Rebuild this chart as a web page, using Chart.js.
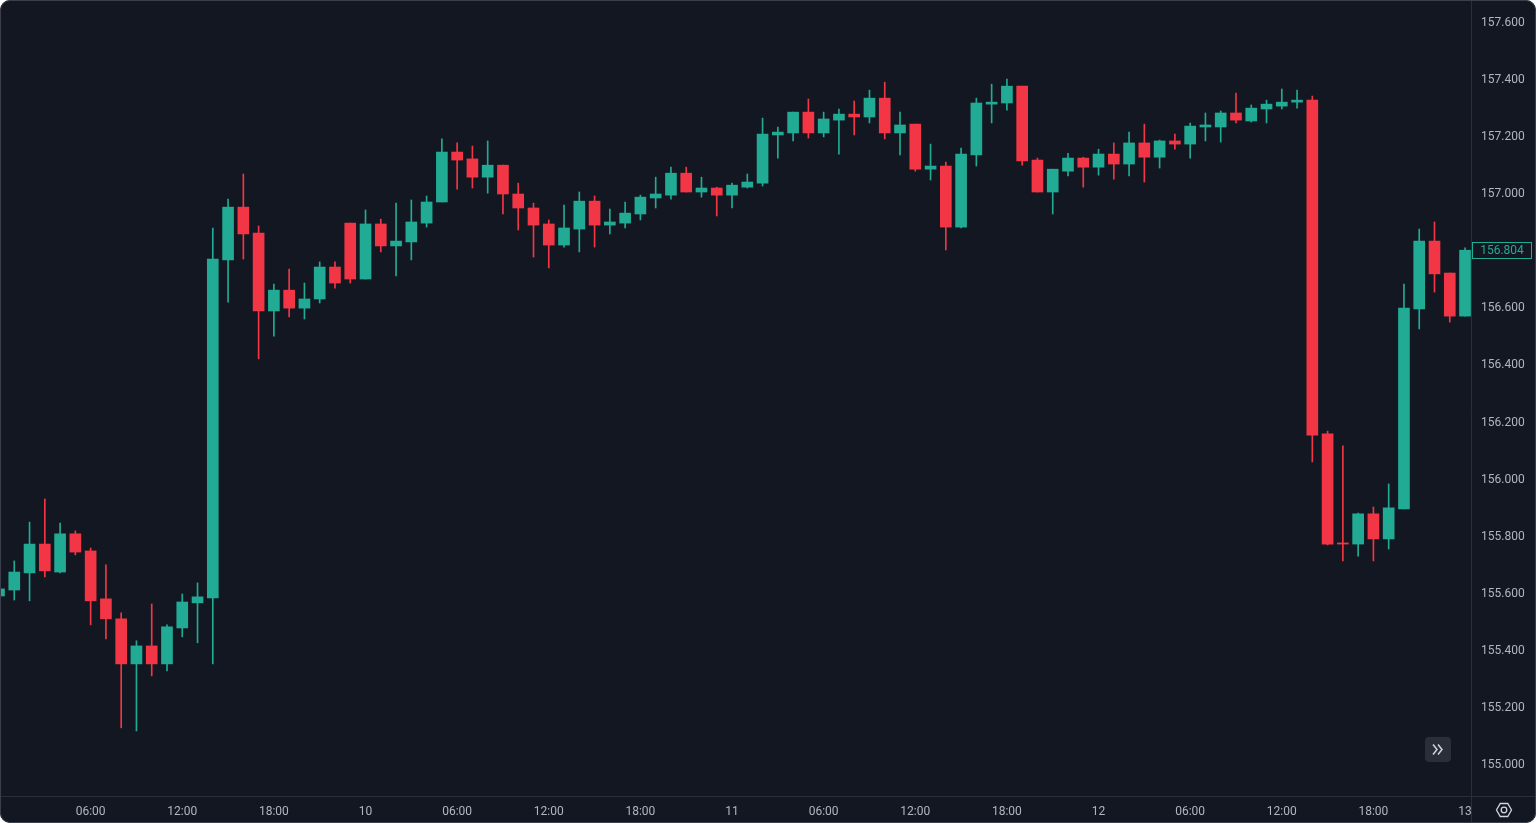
<!DOCTYPE html>
<html>
<head>
<meta charset="utf-8">
<script src="https://cdn.jsdelivr.net/npm/chart.js@4.4.0/dist/chart.umd.min.js"></script>
<style>
html, body { margin: 0; padding: 0; background: #ffffff; }
#wrap { position: relative; width: 1536px; height: 823px; background: #131722; border-radius: 10px; overflow: hidden; }
#wrap::after { content: ''; position: absolute; left: 0; top: 0; right: 0; bottom: 0; border: 1px solid #3b3f4b; border-radius: 10px; pointer-events: none; }
</style>
</head>
<body>
<div id="wrap"><canvas id="grafico"></canvas></div>
<script>
// hourly candles, 9th 00:00 -> 13th 00:00
const opens = [
    155.592, 155.613, 155.673, 155.774, 155.676, 155.810, 155.750, 155.582, 155.512, 155.354,
    155.417, 155.354, 155.480, 155.568, 155.585, 156.770, 156.955, 156.864, 156.591, 156.664,
    156.601, 156.633, 156.745, 156.899, 156.703, 156.896, 156.819, 156.833, 156.899, 156.973,
    157.148, 157.124, 157.060, 157.102, 157.001, 156.952, 156.896, 156.822, 156.878, 156.976,
    156.892, 156.899, 156.931, 156.987, 156.997, 157.074, 157.008, 157.022, 156.997, 157.025,
    157.039, 157.208, 157.215, 157.288, 157.215, 157.260, 157.281, 157.271, 157.337, 157.215,
    157.246, 157.088, 157.099, 156.885, 157.138, 157.316, 157.320, 157.379, 157.120, 157.008,
    157.081, 157.127, 157.095, 157.141, 157.106, 157.180, 157.130, 157.187, 157.176, 157.236,
    157.236, 157.285, 157.257, 157.299, 157.309, 157.323, 157.330, 156.160, 155.778, 155.774,
    155.880, 155.792, 155.897, 156.598, 156.836, 156.724, 156.573
];
const highs = [
    155.627, 155.715, 155.851, 155.932, 155.848, 155.820, 155.760, 155.701, 155.533, 155.435,
    155.564, 155.491, 155.599, 155.638, 156.882, 156.983, 157.071, 156.889, 156.685, 156.738,
    156.689, 156.763, 156.763, 156.899, 156.945, 156.913, 156.969, 156.980, 156.994, 157.194,
    157.180, 157.169, 157.187, 157.102, 157.039, 156.969, 156.910, 156.962, 157.008, 156.994,
    156.948, 156.973, 156.997, 157.060, 157.095, 157.095, 157.060, 157.025, 157.039, 157.071,
    157.267, 157.236, 157.288, 157.334, 157.288, 157.299, 157.327, 157.365, 157.393, 157.288,
    157.246, 157.176, 157.113, 157.162, 157.337, 157.386, 157.404, 157.379, 157.127, 157.088,
    157.144, 157.130, 157.158, 157.180, 157.218, 157.246, 157.190, 157.211, 157.250, 157.285,
    157.292, 157.355, 157.313, 157.330, 157.369, 157.365, 157.344, 156.170, 156.118, 155.883,
    155.904, 155.985, 156.685, 156.878, 156.903, 156.724, 156.812
];
const lows = [
    155.585, 155.578, 155.575, 155.659, 155.673, 155.736, 155.491, 155.442, 155.130, 155.119,
    155.312, 155.329, 155.449, 155.428, 155.354, 156.622, 156.773, 156.423, 156.503, 156.570,
    156.563, 156.619, 156.671, 156.689, 156.703, 156.798, 156.714, 156.770, 156.885, 156.973,
    157.018, 157.022, 157.004, 156.931, 156.875, 156.780, 156.742, 156.815, 156.798, 156.815,
    156.861, 156.882, 156.910, 156.952, 156.983, 157.008, 156.990, 156.924, 156.952, 157.022,
    157.029, 157.127, 157.187, 157.197, 157.201, 157.141, 157.208, 157.250, 157.194, 157.138,
    157.081, 157.050, 156.805, 156.882, 157.099, 157.250, 157.295, 157.102, 157.008, 156.931,
    157.064, 157.025, 157.067, 157.053, 157.064, 157.043, 157.092, 157.158, 157.127, 157.187,
    157.183, 157.250, 157.253, 157.250, 157.299, 157.302, 156.062, 155.771, 155.715, 155.732,
    155.715, 155.757, 155.897, 156.528, 156.657, 156.552, 156.573
];
const closes = [
    155.617, 155.676, 155.774, 155.680, 155.810, 155.746, 155.575, 155.512, 155.354, 155.417,
    155.354, 155.484, 155.571, 155.589, 156.773, 156.955, 156.861, 156.591, 156.664, 156.601,
    156.633, 156.745, 156.689, 156.703, 156.896, 156.819, 156.836, 156.903, 156.973, 157.148,
    157.120, 157.060, 157.102, 157.001, 156.952, 156.892, 156.822, 156.882, 156.976, 156.892,
    156.903, 156.934, 156.990, 157.001, 157.074, 157.008, 157.022, 156.997, 157.032, 157.043,
    157.211, 157.218, 157.288, 157.215, 157.264, 157.281, 157.271, 157.337, 157.215, 157.243,
    157.088, 157.099, 156.885, 157.141, 157.320, 157.323, 157.379, 157.117, 157.008, 157.088,
    157.127, 157.095, 157.141, 157.106, 157.180, 157.130, 157.187, 157.176, 157.239, 157.243,
    157.285, 157.260, 157.302, 157.316, 157.323, 157.330, 156.156, 155.774, 155.774, 155.880,
    155.792, 155.901, 156.601, 156.836, 156.721, 156.573, 156.804
];

// one label every 6 candles
const tickLabels = ['9', '06:00', '12:00', '18:00', '10', '06:00', '12:00', '18:00', '11',
    '06:00', '12:00', '18:00', '12', '06:00', '12:00', '18:00', '13'];
const tickStep = 6;
const priceTicks = [155.0, 155.2, 155.4, 155.6, 155.8, 156.0, 156.2, 156.4, 156.6, 156.8, 157.0, 157.2, 157.4, 157.6];

const upColor = '#22ab94';
const downColor = '#f23645';
const textColor = '#b2b5be';
const lineColor = '#2a2e39';

const candleColors = closes.map((c, i) => c >= opens[i] ? upColor : downColor);
const wickData = highs.map((h, i) => ({ x: i, y: [lows[i], h] }));
const bodyData = opens.map((o, i) => ({ x: i, y: [o, closes[i]] }));
const lastClose = closes[closes.length - 1];

const decoracao = {
    id: 'decoracao',
    afterDraw(chart) {
        const ctx = chart.ctx;
        const area = chart.chartArea;
        const w = chart.width, h = chart.height;
        ctx.save();

        // axis separators
        ctx.strokeStyle = lineColor;
        ctx.lineWidth = 1;
        ctx.beginPath();
        ctx.moveTo(Math.round(area.right) + 0.5, 0);
        ctx.lineTo(Math.round(area.right) + 0.5, h);
        ctx.moveTo(0, Math.round(area.bottom) + 0.5);
        ctx.lineTo(w, Math.round(area.bottom) + 0.5);
        ctx.stroke();

        // last price label
        const y = chart.scales.y.getPixelForValue(lastClose);
        const bx = Math.round(area.right) + 1.5;
        ctx.fillStyle = '#131722';
        ctx.fillRect(bx, y - 8, 59, 16);
        ctx.strokeStyle = upColor;
        ctx.strokeRect(bx, Math.round(y - 8) + 0.5, 59, 16);
        ctx.fillStyle = upColor;
        ctx.font = '12px Roboto';
        ctx.textAlign = 'center';
        ctx.textBaseline = 'middle';
        ctx.fillText(lastClose.toFixed(3), bx + 29.5, y + 1);

        // scroll-to-end button
        const px = 1425, py = 737;
        ctx.fillStyle = '#2a2e39';
        ctx.beginPath();
        ctx.roundRect(px, py, 26, 25, 4);
        ctx.fill();
        ctx.strokeStyle = '#d1d4dc';
        ctx.lineWidth = 1.5;
        ctx.beginPath();
        ctx.moveTo(px + 8, py + 7.5); ctx.lineTo(px + 12, py + 12.5); ctx.lineTo(px + 8, py + 17.5);
        ctx.moveTo(px + 13, py + 7.5); ctx.lineTo(px + 17, py + 12.5); ctx.lineTo(px + 13, py + 17.5);
        ctx.stroke();

        // settings gear
        const gx = 1504, gy = 810;
        ctx.strokeStyle = '#d1d4dc';
        ctx.lineWidth = 1.3;
        ctx.beginPath();
        for (let k = 0; k < 6; k++) {
            const a = Math.PI / 3 * k;
            const hx = gx + 7.5 * Math.cos(a), hy = gy + 7.5 * Math.sin(a);
            if (k === 0) ctx.moveTo(hx, hy); else ctx.lineTo(hx, hy);
        }
        ctx.closePath();
        ctx.stroke();
        ctx.beginPath();
        ctx.arc(gx, gy, 2.8, 0, Math.PI * 2);
        ctx.stroke();

        ctx.restore();
    }
};

var ctx = document.getElementById('grafico');
var grafico = new Chart(ctx, {
    type: 'bar',
    data: {
        datasets: [{
            data: wickData,
            backgroundColor: candleColors,
            barThickness: 1,
            grouped: false,
            order: 2
        }, {
            data: bodyData,
            backgroundColor: candleColors,
            barThickness: 11,
            minBarLength: 1,
            grouped: false,
            order: 1
        }]
    },
    options: {
        responsive: true,
        maintainAspectRatio: false,
        animation: false,
        layout: { padding: 0 },
        plugins: {
            legend: { display: false },
            tooltip: { enabled: false }
        },
        scales: {
            x: {
                type: 'linear',
                offset: false,
                min: 0.065,
                max: 96.39,
                grid: { display: false, drawTicks: false },
                border: { display: false },
                afterBuildTicks: (axis) => {
                    axis.ticks = tickLabels.map((t, i) => ({ value: i * tickStep }))
                        .filter(t => t.value >= axis.min && t.value <= axis.max);
                },
                afterFit: (scale) => {
                    scale.height = 27;
                    scale.paddingLeft = 0;
                    scale.paddingRight = 0;
                },
                ticks: {
                    color: textColor,
                    font: { family: 'Roboto', size: 12 },
                    padding: 9,
                    maxRotation: 0,
                    autoSkip: false,
                    callback: (v) => tickLabels[Math.round(v / tickStep)]
                }
            },
            y: {
                position: 'right',
                min: 154.891,
                max: 157.681,
                grid: { display: false, drawTicks: false },
                border: { display: false },
                afterBuildTicks: (axis) => {
                    axis.ticks = priceTicks.map(v => ({ value: v }));
                },
                afterFit: (scale) => {
                    scale.width = 65;
                    scale.paddingTop = 0;
                    scale.paddingBottom = 0;
                },
                ticks: {
                    color: textColor,
                    font: { family: 'Roboto', size: 12 },
                    padding: 10,
                    callback: (v) => Number(v).toFixed(3)
                }
            }
        }
    },
    plugins: [decoracao]
});
</script>
</body>
</html>
